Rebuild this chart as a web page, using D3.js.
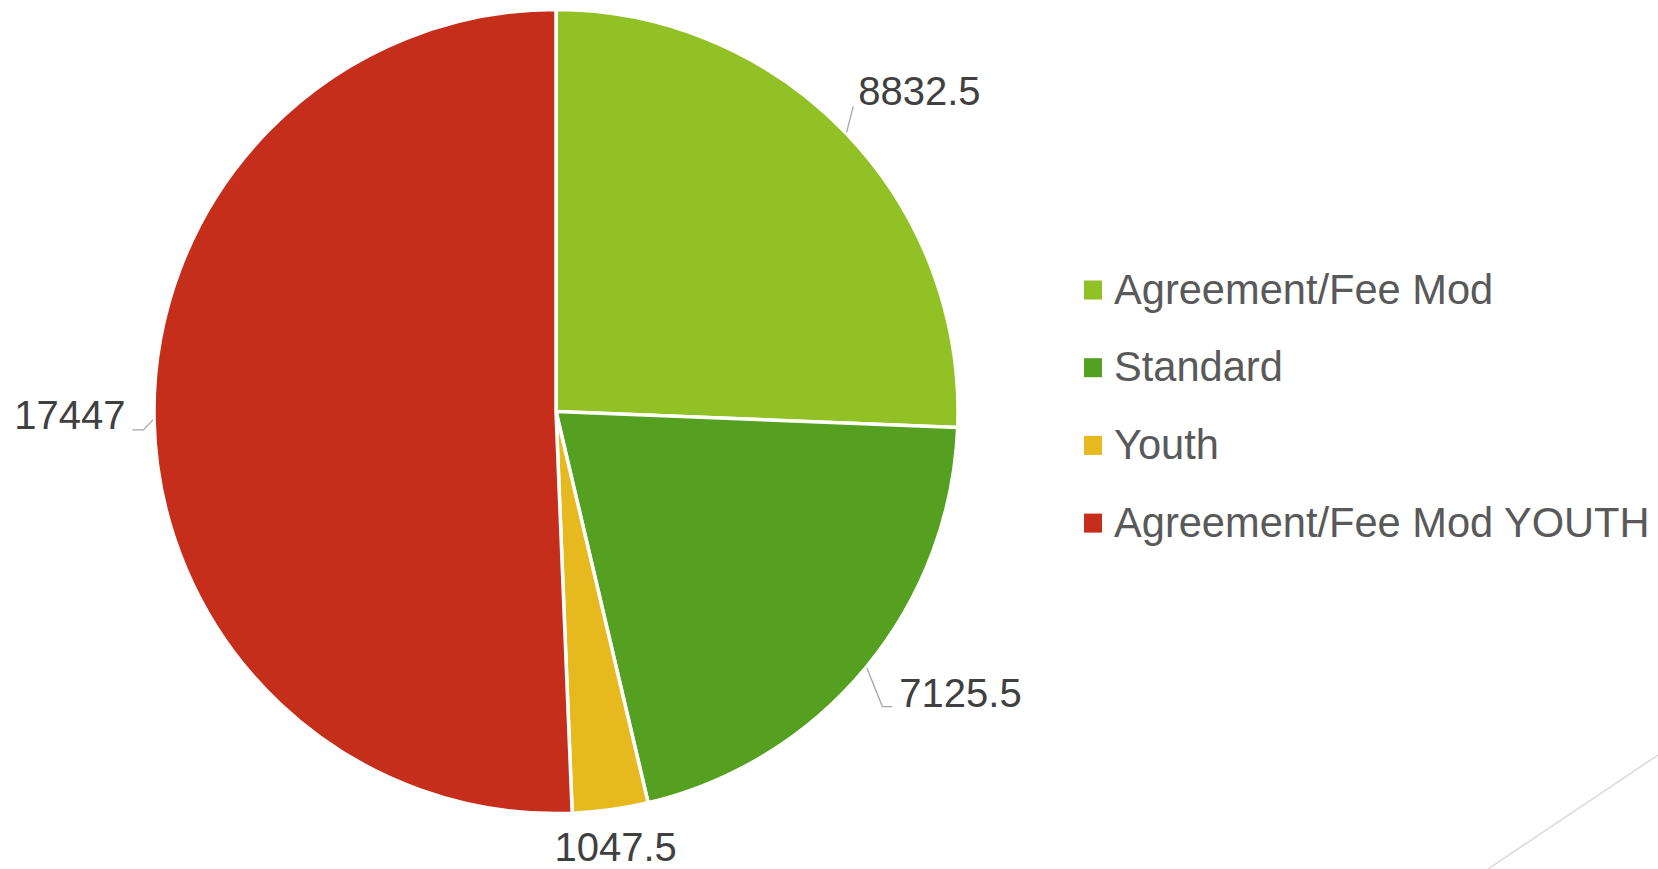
<!DOCTYPE html>
<html>
<head>
<meta charset="utf-8">
<script src="https://cdn.jsdelivr.net/npm/d3@7"></script>
<style>
  body { margin: 0; background: #fff; }
  svg { display: block; font-family: "Liberation Sans", Arial, sans-serif; }
</style>
</head>
<body>
<div id="chart"></div>
<script>
// chart data
var categories = ["Agreement/Fee Mod", "Standard", "Youth", "Agreement/Fee Mod YOUTH"];
var values = [8832.5, 7125.5, 1047.5, 17447];
var labels = ["8832.5", "7125.5", "1047.5", "17447"];
var colors = ["#92c125", "#55a021", "#e6b91e", "#c42e1a"];

var w = 1658;
var h = 869;
var cx = 556, cy = 411.5;
var radius = 402;

var svg = d3.select("#chart")
    .append("svg")
    .attr("width", w)
    .attr("height", h);

// decorative slide line, bottom right
svg.append("line")
    .attr("x1", w).attr("y1", 755)
    .attr("x2", 1488).attr("y2", h)
    .attr("stroke", "#d9d9d9")
    .attr("stroke-width", 1.5);

var pie = d3.pie().sort(null).value(function (d) { return d; });
var arc = d3.arc().innerRadius(0).outerRadius(radius);
var arcs = pie(values);

var g = svg.append("g").attr("transform", "translate(" + cx + "," + cy + ")");

g.selectAll("path.slice")
    .data(arcs)
    .enter()
    .append("path")
    .attr("class", "slice")
    .attr("d", arc)
    .attr("fill", function (d, i) { return colors[i]; })
    .attr("stroke", "#fff")
    .attr("stroke-width", 3.5)
    .attr("stroke-linejoin", "round");

// polar helper, angle clockwise from 12 o'clock
var pt = function (a, r) { return [Math.sin(a) * r, -Math.cos(a) * r]; };
var deg = Math.PI / 180;

// leader line layout for each label (null = no leader)
var leaders = [
    { dr: 24, da: -1.9, hz: 0, gap: 5, dy: -1 },
    { dr: 38, da: 2.6, hz: 10, gap: 7, dy: 0 },
    null,
    { dr: 11, da: -1.4, hz: -11, gap: -7, dy: -1 }
];

arcs.forEach(function (d, i) {
    var mid = (d.startAngle + d.endAngle) / 2;
    var lead = leaders[i];
    if (!lead) {
        var p = pt(mid, 440);
        g.append("text")
            .attr("x", p[0]).attr("y", p[1] + 14)
            .attr("text-anchor", "middle")
            .attr("font-size", 40)
            .attr("fill", "#404040")
            .text(labels[i]);
        return;
    }
    var p0 = pt(mid, radius + 1);
    var p1 = pt(mid + lead.da * deg, radius + lead.dr);
    var p2 = [p1[0] + lead.hz, p1[1]];
    g.append("polyline")
        .attr("points", [p0, p1, p2].map(function (p) { return p.join(","); }).join(" "))
        .attr("fill", "none")
        .attr("stroke", "#a6a6a6")
        .attr("stroke-width", 1.3);
    g.append("text")
        .attr("x", p2[0] + lead.gap)
        .attr("y", p2[1] + lead.dy)
        .attr("text-anchor", lead.gap < 0 ? "end" : "start")
        .attr("font-size", 40)
        .attr("fill", "#404040")
        .text(labels[i]);
});

// legend
var legend = svg.append("g").attr("transform", "translate(1084,290)");
var item = legend.selectAll("g.item")
    .data(categories)
    .enter()
    .append("g")
    .attr("class", "item")
    .attr("transform", function (d, i) { return "translate(0," + (i * 77.7) + ")"; });

item.append("rect")
    .attr("x", 0).attr("y", -9.5)
    .attr("width", 18).attr("height", 19)
    .attr("fill", function (d, i) { return colors[i]; });

item.append("text")
    .attr("x", 30)
    .attr("y", 13.5)
    .attr("font-size", 41.6)
    .attr("fill", "#595959")
    .text(function (d) { return d; });
</script>
</body>
</html>
